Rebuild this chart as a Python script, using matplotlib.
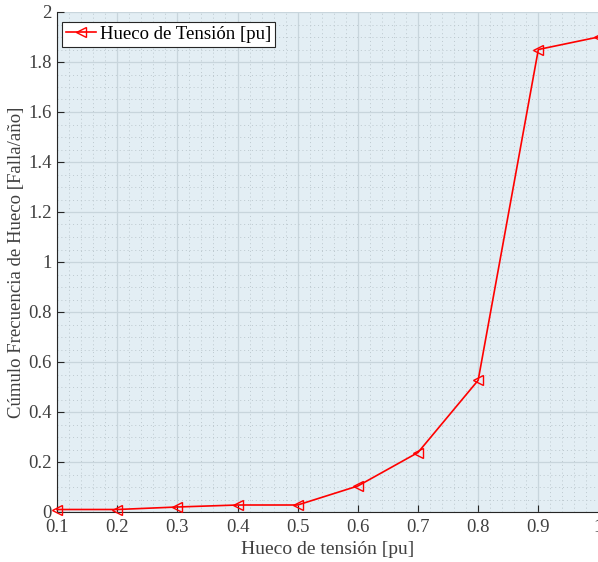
import matplotlib
matplotlib.use("Agg")
import matplotlib.pyplot as plt
from matplotlib.ticker import MultipleLocator

x = [0.1, 0.2, 0.3, 0.4, 0.5, 0.6, 0.7, 0.8, 0.9, 1.0]
y = [0.01, 0.01, 0.02, 0.028, 0.028, 0.104, 0.238, 0.527, 1.85, 1.90]
xticks = [0.1, 0.2, 0.3, 0.4, 0.5, 0.6, 0.7, 0.8, 0.9, 1.0]
xticklabels = ["0.1", "0.2", "0.3", "0.4", "0.5", "0.6", "0.7", "0.8", "0.9", "1"]
yticks = [0, 0.2, 0.4, 0.6, 0.8, 1.0, 1.2, 1.4, 1.6, 1.8, 2.0]
yticklabels = ["0", "0.2", "0.4", "0.6", "0.8", "1", "1.2", "1.4", "1.6", "1.8", "2"]

plt.rcParams['font.family'] = ['Liberation Serif', 'DejaVu Serif']

fig = plt.figure(figsize=(5.98, 5.62), dpi=100)
ax = fig.add_axes([57/598, 50/562, 541.5/598, 500/562])
ax.set_facecolor('#e3eef4')

ax.plot(x, y, color='#ff0000', lw=1.2, marker='<', markersize=7,
        markerfacecolor='none', markeredgecolor='#ff0000', mew=1.0,
        label='Hueco de Tensión [pu]', clip_on=False, zorder=5)

ax.set_xlim(0.1, 1.0)
ax.set_ylim(0, 2)
ax.set_xticks(xticks)
ax.set_xticklabels(xticklabels)
ax.set_yticks(yticks)
ax.set_yticklabels(yticklabels)
ax.xaxis.set_minor_locator(MultipleLocator(0.02))
ax.yaxis.set_minor_locator(MultipleLocator(0.05))

ax.grid(True, which='major', color='#c8d5dc', lw=0.9)
ax.grid(True, which='minor', color='#bcc8ce', lw=0.7, linestyle=(0, (1, 3)))
ax.set_axisbelow(True)

for s in ['top', 'right']:
    ax.spines[s].set_visible(False)
for s in ['left', 'bottom']:
    ax.spines[s].set_color('#262626')
    ax.spines[s].set_linewidth(0.8)

ax.tick_params(which='major', direction='in', length=5, color='#262626',
               labelsize=13.5, labelcolor='#404040', pad=4)
ax.tick_params(axis='x', which='major', pad=5)
ax.tick_params(which='minor', length=0)

ax.set_xlabel('Hueco de tensión [pu]', fontsize=14, color='#404040', labelpad=4)
ax.set_ylabel('Cúmulo Frecuencia de Hueco [Falla/año]', fontsize=13.5, color='#404040', labelpad=2)

leg = ax.legend(loc='upper left', bbox_to_anchor=(5/541.5, 1 - 10/500),
                fontsize=13.5, fancybox=False, framealpha=1,
                edgecolor='#262626', borderpad=0.2, handlelength=1.6,
                handletextpad=0.2, borderaxespad=0)
leg.get_frame().set_linewidth(0.8)

fig.savefig('out.png', dpi=100)
